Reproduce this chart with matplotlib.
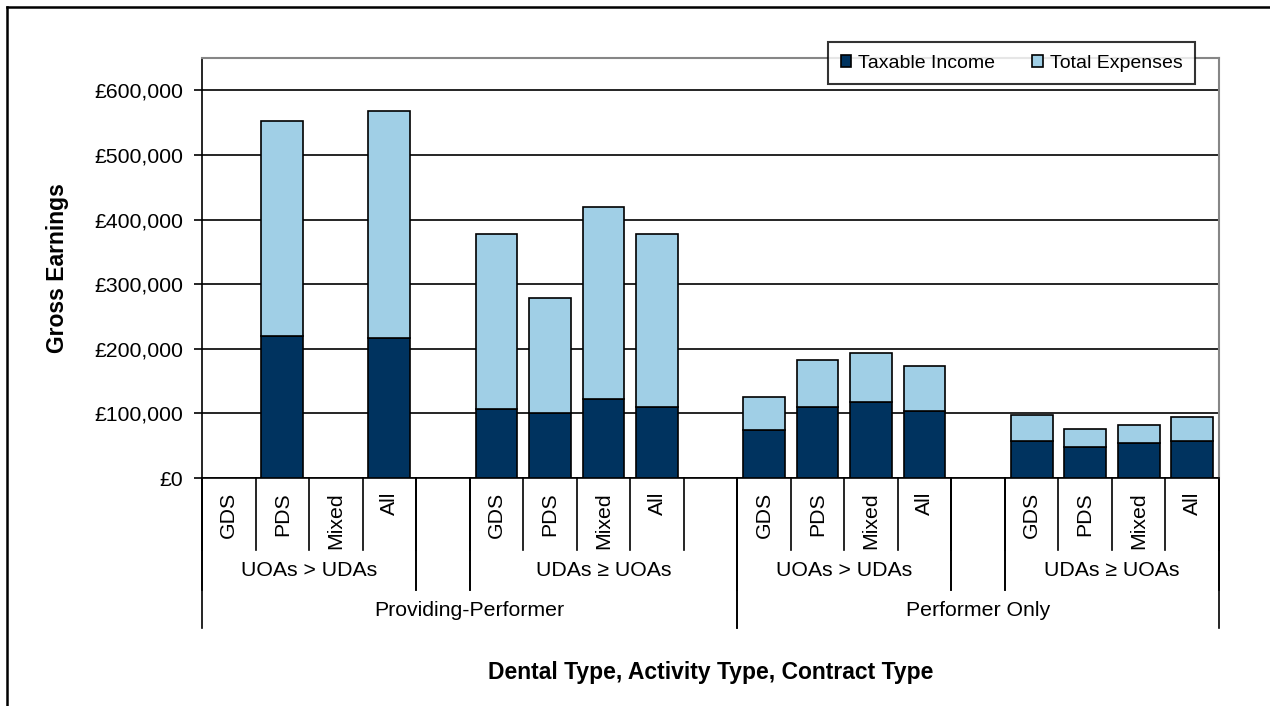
import numpy as np
import matplotlib
matplotlib.use("Agg")
import matplotlib.pyplot as plt
from matplotlib.ticker import FuncFormatter
from matplotlib.lines import Line2D

plt.rcParams['font.family'] = ['Liberation Sans', 'DejaVu Sans']

# data, blank slots are None
contract = ['GDS', 'PDS', 'Mixed', 'All', '',
            'GDS', 'PDS', 'Mixed', 'All', '',
            'GDS', 'PDS', 'Mixed', 'All', '',
            'GDS', 'PDS', 'Mixed', 'All']
taxable = [None, 220000, None, 217000, None,
           107000, 101000, 123000, 110000, None,
           74000, 110000, 117000, 104000, None,
           58000, 48000, 54000, 58000]
total = [None, 553000, None, 568000, None,
         378000, 278000, 419000, 378000, None,
         126000, 182000, 194000, 173000, None,
         98000, 76000, 82000, 94000]
# (label, first slot, end slot)
activity_groups = [('UOAs > UDAs', 0, 4), ('', 4, 5), ('UDAs \u2265 UOAs', 5, 10),
                   ('UOAs > UDAs', 10, 14), ('', 14, 15), ('UDAs \u2265 UOAs', 15, 19)]
dental_groups = [('Providing-Performer', 0, 10), ('Performer Only', 10, 19)]

navy = '#00335F'
light = '#A0CFE6'
fs = 15.3

fig = plt.figure(figsize=(12.7, 7.06), dpi=100)
W, H = 1270, 706
L, R, T, B = 202, 1219, 58, 478
ax = fig.add_axes([L / W, 1 - B / H, (R - L) / W, (B - T) / H])

x = np.array([i for i, v in enumerate(total) if v is not None])
tx = np.array([taxable[i] for i in x])
ex = np.array([total[i] for i in x]) - tx

ax.bar(x, tx, width=0.78, color=navy, edgecolor='black', linewidth=1.2, zorder=3, label='Taxable Income')
ax.bar(x, ex, width=0.78, bottom=tx, color=light, edgecolor='black', linewidth=1.2, zorder=3, label='Total Expenses')

ax.set_xlim(-0.5, len(contract) - 0.5)
ax.set_ylim(0, 650000)
ax.set_yticks(np.arange(0, 600001, 100000))
ax.yaxis.set_major_formatter(FuncFormatter(lambda v, p: '\u00a3{:,.0f}'.format(v)))
ax.tick_params(axis='y', direction='out', length=5.8, width=1.2, pad=8, labelsize=fs)
ax.set_xticks([])
ax.yaxis.grid(True, color='black', linewidth=1.2)
ax.set_axisbelow(True)
for s in ['top', 'right']:
    ax.spines[s].set_color('#868686')
    ax.spines[s].set_linewidth(1.5)
for s in ['left', 'bottom']:
    ax.spines[s].set_color('black')
    ax.spines[s].set_linewidth(1.2)

ax.set_ylabel('Gross Earnings', fontsize=16.5, fontweight='bold', labelpad=18)

# multi-level category axis
trans = ax.get_xaxis_transform()
def ay(px):
    return (B - px) / (B - T)

def vline(xpos, ybot):
    ax.add_line(Line2D([xpos, xpos], [0, ay(ybot)], transform=trans, color='black',
                       linewidth=1.2, clip_on=False))

for i in range(len(contract) + 1):
    vline(i - 0.5, 550)
for i, lab in enumerate(contract):
    ax.text(i, ay(492), lab, transform=trans, rotation=90, ha='center', va='top', fontsize=fs)
for lab, a, b in activity_groups:
    vline(a - 0.5, 590)
    vline(b - 0.5, 590)
    ax.text((a + b - 1) / 2, ay(571), lab, transform=trans, ha='center', va='center', fontsize=fs)
for lab, a, b in dental_groups:
    vline(a - 0.5, 628)
    vline(b - 0.5, 628)
    ax.text((a + b - 1) / 2, ay(610), lab, transform=trans, ha='center', va='center', fontsize=fs)

ax.text(0.5, ay(672), 'Dental Type, Activity Type, Contract Type', transform=ax.transAxes,
        ha='center', va='center', fontsize=16.5, fontweight='bold')

leg = ax.legend(loc='upper right', bbox_to_anchor=(1195 / W, 1 - 42 / H), bbox_transform=fig.transFigure,
                ncol=2, fontsize=14, frameon=True, fancybox=False, handlelength=0.55, handleheight=0.55,
                handletextpad=0.35, columnspacing=1.9, borderpad=0.65, borderaxespad=0)
leg.get_frame().set_edgecolor('black')
leg.get_frame().set_linewidth(1.5)
leg.set_zorder(5)

# outer chart border
fig.add_artist(Line2D([7 / W, 7 / W], [0, 1 - 7 / H], color='black', linewidth=1.8))
fig.add_artist(Line2D([7 / W, 1], [1 - 7 / H, 1 - 7 / H], color='black', linewidth=1.8))

fig.savefig('out.png', dpi=100)
